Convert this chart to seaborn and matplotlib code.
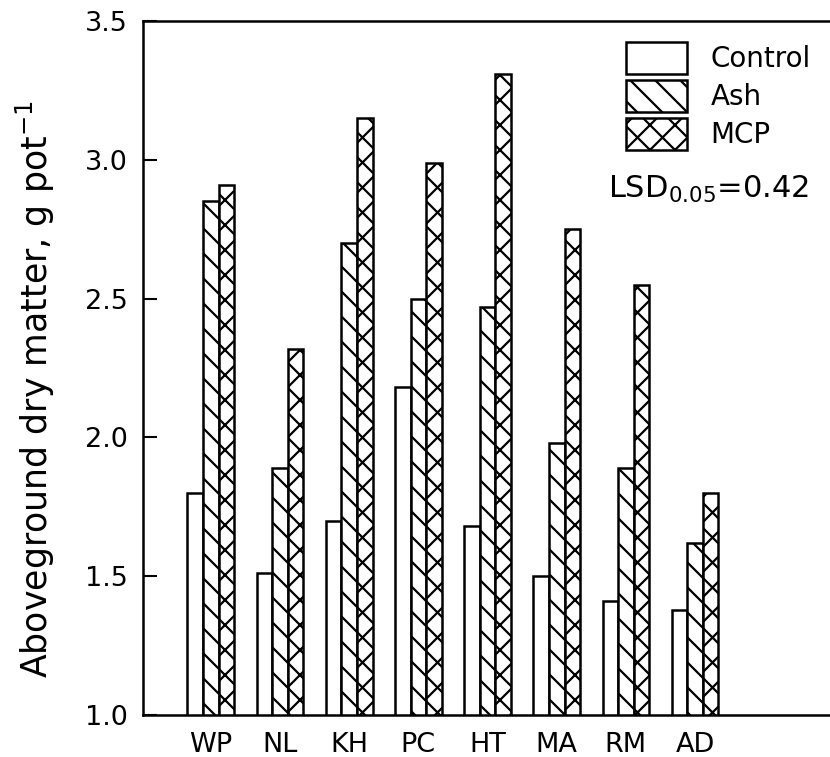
import matplotlib
matplotlib.use("Agg")
import matplotlib.pyplot as plt
import pandas as pd
import seaborn as sns
from matplotlib.backend_bases import GraphicsContextBase

# denser hatching, closer to the plotter-style original
_orig_hatch_path = GraphicsContextBase.get_hatch_path
GraphicsContextBase.get_hatch_path = lambda self, density=8: _orig_hatch_path(self, density)

sites = ["WP", "NL", "KH", "PC", "HT", "MA", "RM", "AD"]
treatments = ["Control", "Ash", "MCP"]
control = [1.80, 1.51, 1.70, 2.18, 1.68, 1.50, 1.41, 1.38]
ash = [2.85, 1.89, 2.70, 2.50, 2.47, 1.98, 1.89, 1.62]
mcp = [2.91, 2.32, 3.15, 2.99, 3.31, 2.75, 2.55, 1.80]
hatches = ["", "\\", "x"]

df = pd.DataFrame({
    "site": sites * 3,
    "treatment": [t for t in treatments for _ in sites],
    "value": control + ash + mcp,
})

sns.set_style("white")
plt.rcParams["font.family"] = ["DejaVu Sans"]
plt.rcParams["text.color"] = "black"
plt.rcParams["xtick.color"] = "black"
plt.rcParams["ytick.color"] = "black"
plt.rcParams["axes.labelcolor"] = "black"
plt.rcParams["hatch.linewidth"] = 1.6
plt.rcParams["mathtext.default"] = "regular"

fig = plt.figure(figsize=(8.3, 7.57), dpi=100)
ax = fig.add_axes([143 / 830, 1 - 715 / 757, 1 - 143 / 830, (715 - 21) / 757])

sns.barplot(data=df, x="site", y="value", hue="treatment", order=sites,
            hue_order=treatments, palette=["white"] * 3, width=0.675, gap=0,
            edgecolor="black", linewidth=1.8, legend=False, ax=ax)

for cont, h, name in zip(ax.containers, hatches, treatments):
    for bar in cont:
        bar.set_hatch(h)
    cont.set_label(name)

ax.set_ylim(1.0, 3.5)
ax.set_xlim(-0.98, 8.95)
ax.set_yticks([1.0, 1.5, 2.0, 2.5, 3.0, 3.5])
ax.set_yticklabels(["1.0", "1.5", "2.0", "2.5", "3.0", "3.5"])
ax.tick_params(axis="y", direction="in", length=10, width=1.5, pad=11, labelsize=19.5, left=True)
ax.tick_params(axis="x", length=0, pad=12, labelsize=19.5)
ax.set_xlabel("")
ax.set_ylabel("Aboveground dry matter, g pot$^{-1}$", fontsize=25)
ax.yaxis.set_label_coords(-0.125, 0.47)

for side in ["left", "bottom", "top"]:
    ax.spines[side].set_linewidth(1.8)
    ax.spines[side].set_color("black")
ax.spines["right"].set_visible(False)

ax.legend(handles=ax.containers, loc="upper left", frameon=False,
          bbox_to_anchor=(626 / 830, 1 - 42 / 757), bbox_transform=fig.transFigure,
          borderpad=0, borderaxespad=0, fontsize=20, handlelength=2.2,
          handleheight=1.37, labelspacing=0.24, handletextpad=0.85)

fig.text(608 / 830, 1 - 198 / 757, "LSD$_{0.05}$=0.42", fontsize=22, va="baseline")

fig.savefig("out.png", dpi=100)
